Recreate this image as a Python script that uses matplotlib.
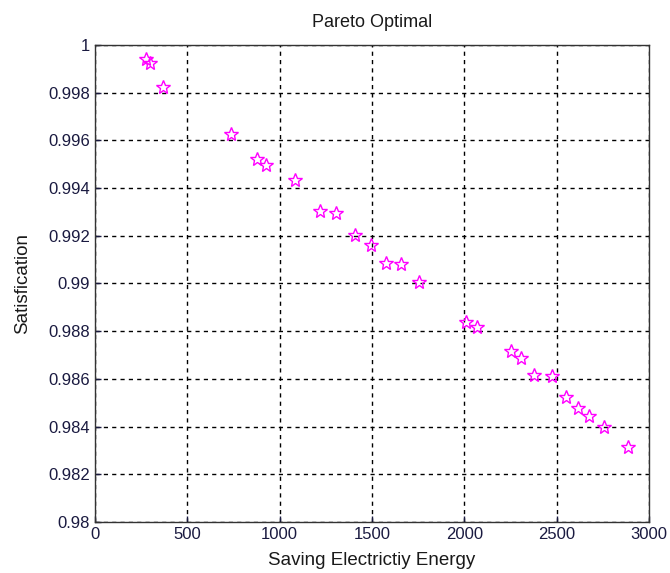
import matplotlib
matplotlib.use('Agg')
import matplotlib.pyplot as plt

plt.rcParams['font.family'] = ['Liberation Sans', 'DejaVu Sans']

saving = [274, 300, 368, 738, 877, 924, 1083, 1220, 1307, 1408, 1497,
          1578, 1659, 1753, 2011, 2071, 2255, 2309, 2376, 2472, 2549,
          2613, 2674, 2755, 2887]
satisfaction = [0.9994, 0.99923, 0.99822, 0.99625, 0.99523, 0.99495,
                0.99432, 0.99305, 0.99294, 0.99204, 0.99161, 0.99085,
                0.99081, 0.99008, 0.98839, 0.98818, 0.98719, 0.98688,
                0.98618, 0.98613, 0.98523, 0.98480, 0.98445, 0.98400,
                0.98316]

fig = plt.figure(figsize=(6.7, 5.73), dpi=100)
ax = fig.add_axes([0.1418, 0.0890, 0.8269, 0.8325])

ax.plot(saving, satisfaction, linestyle='none', marker='*', markersize=10,
        markerfacecolor='none', markeredgecolor='#ff00ff', markeredgewidth=1.0)

ax.set_xlim(0, 3000)
ax.set_ylim(0.98, 1.0)
ax.set_xticks(range(0, 3001, 500))
ax.set_yticks([0.98 + 0.002 * i for i in range(11)])
ax.set_yticklabels(['0.98', '0.982', '0.984', '0.986', '0.988', '0.99',
                    '0.992', '0.994', '0.996', '0.998', '1'])

ax.grid(True, color='black', linestyle=(0, (3, 3)), linewidth=1)
ax.tick_params(direction='in', length=4, labelsize=12, colors='#1a1a40',
               width=1)
for s in ax.spines.values():
    s.set_color('#333333')
    s.set_linewidth(1)

ax.set_title('Pareto Optimal', fontsize=13, color='#1a1a1a', pad=13)
ax.set_xlabel('Saving Electrictiy Energy', fontsize=13.5, color='#1a1a1a', labelpad=7)
ax.set_ylabel('Satisfication', fontsize=13.5, color='#1a1a1a', labelpad=12)

fig.savefig('out.png', dpi=100)
